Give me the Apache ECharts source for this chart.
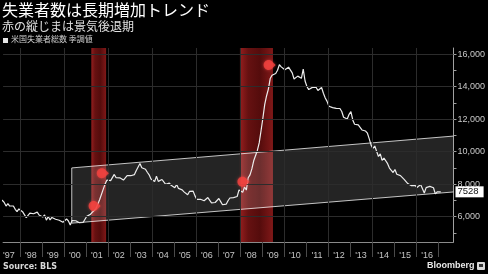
<!DOCTYPE html>
<html><head><meta charset="utf-8">
<script src="https://cdn.jsdelivr.net/npm/echarts@6/dist/echarts.min.js"></script>
<style>html,body{margin:0;padding:0;background:#000;} #c{width:488px;height:274px;}</style>
</head><body><div id="c"></div>
<script>
const titleText = '失業者数は長期増加トレンド';
const subtitleText = '赤の縦じまは景気後退期';
const seriesName = '米国失業者総数 季調値';
const sourceText = 'Source: BLS';
const brandText = 'Bloomberg';

// Monthly unemployed (thousands, SA), Jan 1997 .. Feb 2017
const startYear = 1997;
const unemployed = [
  7158,7102,7000,6873,6655,6799,6655,6608,6656,6454,6308,6476,
  6368,6306,6422,5941,6047,6212,6259,6179,6300,6280,6100,6032,
  5976,6111,5783,6004,5796,5951,6025,5838,5915,5778,5716,5653,
  5708,5858,5733,5481,5758,5651,5747,5853,5625,5534,5639,5634,
  6023,6089,6141,6271,6226,6484,6583,7042,7142,7694,8003,8258,
  8182,8215,8304,8599,8399,8393,8390,8304,8251,8307,8520,8640,
  8520,8618,8588,8842,8957,9266,9011,8896,8921,8732,8576,8317,
  8370,8167,8491,8170,8212,8286,8136,7990,7927,8061,7932,7934,
  7784,7980,7737,7672,7651,7524,7406,7345,7553,7453,7566,7279,
  7064,7184,7072,7120,6980,7001,7175,7091,6847,6727,6872,6762,
  7116,6927,6731,6850,6766,6979,7149,7067,7170,7237,7240,7645,
  7685,7497,7822,7637,8395,8575,8937,9438,9494,10074,10538,11286,
  12058,12898,13426,13853,14499,14707,14601,14814,15009,15352,15219,15098,
  15046,15113,15202,15325,14849,14474,14512,14648,14579,14516,15081,14348,
  14013,13820,13737,13957,13855,13962,13763,13818,13948,13594,13302,13093,
  12797,12813,12713,12646,12660,12692,12656,12471,12115,12124,12005,12298,
  12471,11950,11689,11760,11654,11751,11335,11279,11270,11136,10787,10404,
  10202,10349,10380,9702,9859,9460,9608,9599,9262,8990,9090,8717,
  8903,8610,8504,8526,8640,8299,8266,8037,7925,7907,7913,7930,
  7791,7787,7979,7969,7452,7787,7771,7860,7901,7779,7404,7529,
  7635,7528
];
const lastValue = 7528;

const yearTicks = [1998,1999,2000,2001,2002,2003,2004,2005,2006,2007,2008,2009,2010,2011,2012,2013,2014,2015,2016,2017];
const yearLabels = [1997,1998,1999,2000,2001,2002,2003,2004,2005,2006,2007,2008,2009,2010,2011,2012,2013,2014,2015,2016];
const gridYears = [1998,2000,2002,2004,2006,2008,2010,2012,2014,2016];
const yTickValues = [5000,6000,7000,8000,9000,10000,11000,12000,13000,14000,15000,16000];
const yLabelValues = [6000,8000,10000,12000,14000,16000];

const recessions = [[2001.25, 2001.92], [2008.0, 2009.5]];
const channelX = [2000.36, 2017.70];
const channelLower = [5600, 7520];
const channelUpper = [9000, 10960];
const markers = [[2001.40, 6656], [2001.77, 8668], [2008.16, 8151], [2009.35, 15334]];

const lineData = unemployed.map((v, i) => [startYear + (i + 0.5) / 12, v]);
const FONT = '"Liberation Sans", Arial, sans-serif';
const JFONT = '"Noto Sans CJK JP", sans-serif';
const TAG = 'path://M5 0C2.2 0 0 2.2 0 5s2.2 5 5 5c1.5 0 2.8-.7 3.7-1.7L12 5 8.7 1.7C7.8.7 6.5 0 5 0z';

const chart = echarts.init(document.getElementById('c'), null, {renderer: 'canvas'});
chart.setOption({
  backgroundColor: '#000',
  animation: false,
  grid: {left: 0, right: 29, top: 48, bottom: 32, containLabel: false},
  xAxis: {
    type: 'value', min: 1997.24, max: 2017.70,
    axisLine: {show: true, lineStyle: {color: '#8a8a8a', width: 1}},
    axisTick: {show: true, customValues: yearTicks, length: 15, lineStyle: {color: '#4a4a4a'}},
    axisLabel: {customValues: yearLabels.map(y => y + 0.5), formatter: v => "'" + String(Math.floor(v)).slice(2),
      color: '#c4c4c4', fontSize: 9, fontFamily: FONT, margin: 9},
    splitLine: {show: false}
  },
  yAxis: {
    type: 'value', position: 'right', min: 4440, max: 16380,
    axisLine: {show: true, lineStyle: {color: '#a0a0a0', width: 1}},
    axisTick: {show: true, customValues: yTickValues, length: 3, lineStyle: {color: '#a0a0a0'}},
    axisLabel: {customValues: yLabelValues, color: '#c8c8c8', fontSize: 9, fontFamily: FONT, margin: 4},
    splitLine: {show: false}
  },
  series: [
    {
      name: 'grid', type: 'line', data: [], z: 1, silent: true,
      markLine: {silent: true, symbol: 'none', animation: false, label: {show: false},
        lineStyle: {color: '#2c2c2c', width: 1, type: 'solid'},
        data: gridYears.map(x => ({xAxis: x})).concat(yLabelValues.map(y => ({yAxis: y})))}
    },
    {
      name: 'recession', type: 'line', data: [], z: 2, silent: true,
      markArea: {silent: true, animation: false,
        itemStyle: {color: {type: 'linear', x: 0, y: 0, x2: 1, y2: 0, colorStops: [
          {offset: 0, color: '#951e1e'}, {offset: 0.25, color: '#661111'}, {offset: 0.6, color: '#550c0c'}, {offset: 1, color: '#801818'}]}},
        data: recessions.map(r => [{xAxis: r[0]}, {xAxis: r[1]}])}
    },
    {
      name: 'channel', type: 'custom', z: 3, silent: true,
      data: [[channelX[0], channelLower[0], channelUpper[0], channelX[1], channelLower[1], channelUpper[1]]],
      encode: {x: [0, 3], y: [1, 2, 4, 5]},
      renderItem: function (params, api) {
        const a = api.coord([api.value(0), api.value(1)]);
        const b = api.coord([api.value(0), api.value(2)]);
        const c = api.coord([api.value(3), api.value(5)]);
        const d = api.coord([api.value(3), api.value(4)]);
        return {type: 'group', children: [
          {type: 'polygon', shape: {points: [a, b, c, d]}, style: {fill: 'rgba(255,255,255,0.14)', stroke: null}},
          {type: 'polyline', shape: {points: [a, b, c]}, style: {fill: null, stroke: 'rgba(255,255,255,0.75)', lineWidth: 1}},
          {type: 'polyline', shape: {points: [a, d]}, style: {fill: null, stroke: 'rgba(255,255,255,0.75)', lineWidth: 1}}
        ]};
      }
    },
    {
      name: seriesName, type: 'line', data: lineData, z: 4, showSymbol: false, symbol: 'none',
      lineStyle: {color: '#ececec', width: 1.2},
      markLine: {silent: true, symbol: 'none', animation: false,
        lineStyle: {color: 'rgba(0,0,0,0)', width: 0},
        label: {show: true, position: 'end', distance: 2, formatter: String(lastValue),
          backgroundColor: '#ffffff', color: '#111', fontSize: 9.5, fontFamily: FONT, padding: [1, 5, 0, 2]},
        data: [{yAxis: lastValue}]}
    },
    {
      name: 'markers', type: 'scatter', data: markers, z: 5, silent: true,
      symbol: TAG, symbolSize: [12, 10], symbolKeepAspect: false,
      itemStyle: {color: '#f2423e', shadowColor: 'rgba(255,70,70,0.8)', shadowBlur: 3}
    }
  ],
  graphic: [
    {type: 'text', left: 2, top: 2, style: {text: titleText, fill: '#ffffff', font: '16px ' + JFONT}},
    {type: 'text', left: 2, top: 20, style: {text: subtitleText, fill: '#e0e0e0', font: '12px ' + JFONT}},
    {type: 'rect', left: 3, top: 38, shape: {width: 5, height: 5}, style: {fill: '#e6e6e6'}},
    {type: 'text', left: 11, top: 35, style: {text: seriesName, fill: '#cfcfcf', font: '8px ' + JFONT}},
    {type: 'text', left: 3, top: 263, style: {text: sourceText, fill: '#d8d8d8', font: 'bold 8px "DejaVu Sans", sans-serif'}},
    {type: 'text', left: 427, top: 261, style: {text: brandText, fill: '#e8e8e8', font: 'bold 9px ' + FONT}},
    {type: 'rect', left: 477, top: 262, shape: {width: 8, height: 8, r: 1}, style: {fill: '#d8d8d8'}},
    {type: 'rect', left: 479, top: 264, shape: {width: 4, height: 3}, style: {fill: '#333'}}
  ]
});
</script></body></html>
